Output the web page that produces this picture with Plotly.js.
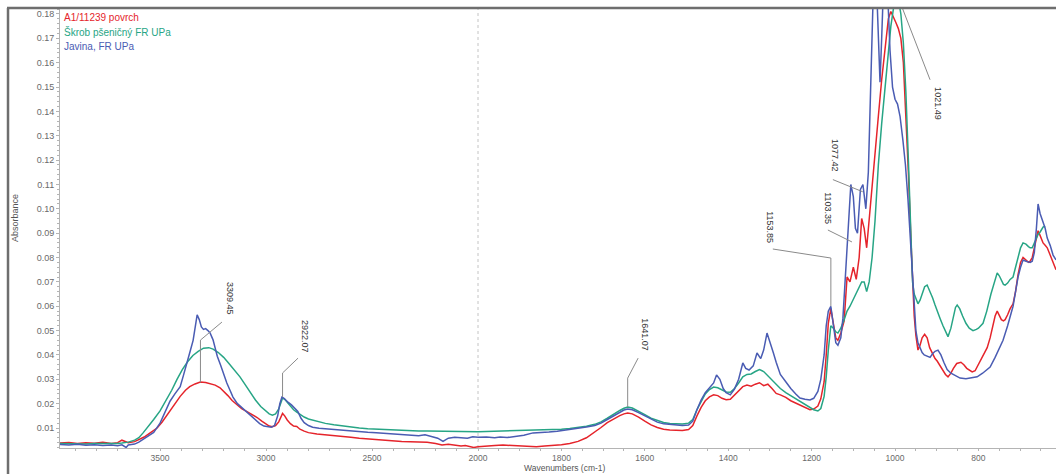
<!DOCTYPE html>
<html>
<head>
<meta charset="utf-8">
<script src="https://cdn.plot.ly/plotly-3.0.1.min.js"></script>
<style>
  html, body { margin: 0; padding: 0; background: #ffffff; }
  #chart { width: 1056px; height: 474px; }
</style>
</head>
<body>
<div id="chart"></div>
<script>
// FTIR spectra: wavenumber (cm-1) and absorbance for each sample
const seriesNames = ['A1/11239 povrch', 'Škrob pšeničný FR UPa', 'Javina, FR UPa'];

const redWn = [3972,3930,3890,3850,3810,3770,3730,3700,3680,3650,3620,3600,3575,3550,3514,3490,3462,3435,3405,3380,3360,3335,3310,3285,3260,3240,3217,3195,3180,3160,3137,3115,3090,3065,3042,3020,3000,2985,2970,2955,2940,2930,2922,2912,2900,2885,2870,2855,2840,2820,2800,2760,2720,2680,2640,2600,2560,2520,2480,2440,2400,2360,2320,2280,2240,2200,2170,2140,2110,2080,2060,2040,2020,2000,
  1980,1960,1940,1920,1900,1880,1860,1840,1820,1800,1780,1760,1740,1720,1705,1690,1675,1660,1650,1641,1630,1615,1600,1585,1570,1555,1540,1525,1510,1495,1485,1475,1465,1455,1445,1435,1425,1415,1405,1395,1385,1375,1365,1355,1345,1335,1325,1315,1305,1295,1285,1275,1262,1250,1238,1228,1216,1204,1195,1185,1178,1170,1165,1160,1154,1148,1142,1137,1130,1122,1115,1108,1100,1093,1086,1080,1074,1068,1062,1055,1048,1040,1032,1024,1016,1010,1004,998,992,986,980,974,968,962,958,954,950,945,940,935,929,923,917,910,904,899,892,885,879,873,866,860,852,842,835,828,821,815,808,800,790,779,772,765,760,755,750,745,740,736,730,724,717,711,705,699,693,686,680,676,671,666,661,657,652,645,640,635,628,621,614];
const redAbs = [0.0038,0.0040,0.0036,0.0039,0.0037,0.0041,0.0036,0.0040,0.0050,0.0040,0.0044,0.0052,0.0063,0.0078,0.0100,0.0125,0.0160,0.0195,0.0230,0.0255,0.0270,0.0281,0.0289,0.0287,0.0282,0.0276,0.0265,0.0248,0.0233,0.0213,0.0195,0.0180,0.0167,0.0155,0.0143,0.0128,0.0116,0.0108,0.0105,0.0110,0.0125,0.0145,0.0160,0.0150,0.0133,0.0118,0.0108,0.0106,0.0095,0.0087,0.0081,0.0075,0.0071,0.0068,0.0065,0.0062,0.0058,0.0055,0.0052,0.0049,0.0047,0.0045,0.0044,0.0043,0.0041,0.0036,0.0030,0.0033,0.0031,0.0026,0.0028,0.0024,0.0020,0.0023,
  0.0024,0.0028,0.0030,0.0028,0.0024,0.0022,0.0023,0.0026,0.0028,0.0031,0.0036,0.0045,0.0060,0.0082,0.0102,0.0122,0.0138,0.0151,0.0158,0.0162,0.0158,0.0145,0.0128,0.0113,0.0102,0.0095,0.0092,0.0090,0.0090,0.0094,0.0110,0.0150,0.0185,0.0212,0.0228,0.0236,0.0233,0.0222,0.0216,0.0218,0.0235,0.0255,0.0270,0.0276,0.0272,0.0280,0.0286,0.0274,0.0280,0.0262,0.0242,0.0236,0.0226,0.0212,0.0202,0.0195,0.0183,0.0175,0.0178,0.0190,0.0220,0.0290,0.0400,0.0530,0.0590,0.0520,0.0470,0.0460,0.0490,0.0540,0.0720,0.0700,0.0760,0.0710,0.0800,0.0960,0.0920,0.0840,0.0950,0.1100,0.1200,0.1380,0.1530,0.1650,0.1780,0.1810,0.1790,0.1765,0.1740,0.1700,0.1600,0.1400,0.1150,0.0880,0.0700,0.0560,0.0480,0.0420,0.0440,0.0470,0.0485,0.0470,0.0430,0.0405,0.0385,0.0375,0.0355,0.0335,0.0320,0.0310,0.0325,0.0345,0.0365,0.0370,0.0360,0.0345,0.0335,0.0330,0.0335,0.0360,0.0390,0.0430,0.0470,0.0520,0.0560,0.0580,0.0560,0.0545,0.0540,0.0545,0.0565,0.0590,0.0610,0.0660,0.0730,0.0780,0.0800,0.0790,0.0780,0.0785,0.0800,0.0840,0.0880,0.0910,0.0890,0.0860,0.0850,0.0840,0.0810,0.0780,0.0750];

const greenWn = [3972,3930,3890,3850,3810,3770,3730,3700,3680,3650,3620,3600,3580,3560,3530,3500,3470,3445,3420,3395,3370,3345,3320,3295,3270,3250,3225,3200,3175,3150,3123,3100,3075,3050,3025,3000,2985,2970,2955,2940,2930,2922,2912,2900,2885,2870,2855,2840,2820,2800,2760,2720,2680,2640,2600,2560,2520,2480,2440,2400,2360,2320,2280,2240,2200,2160,2120,2080,2040,2000,
  1980,1960,1940,1920,1900,1880,1860,1840,1820,1800,1780,1760,1740,1720,1705,1690,1675,1660,1650,1641,1630,1615,1600,1585,1570,1555,1540,1525,1510,1495,1485,1475,1465,1455,1445,1435,1425,1415,1405,1395,1385,1375,1365,1355,1345,1335,1325,1315,1305,1295,1285,1275,1262,1250,1238,1228,1216,1204,1195,1185,1178,1170,1165,1160,1154,1148,1142,1137,1130,1122,1115,1108,1100,1093,1086,1080,1074,1068,1062,1055,1048,1040,1032,1024,1016,1010,1004,998,992,986,980,974,968,962,958,954,950,945,940,935,929,923,917,910,904,899,892,885,879,873,866,860,855,851,845,838,830,822,813,805,800,789,780,770,762,755,750,745,740,736,730,724,717,711,705,699,693,686,680,676,671,666,661,657,652,645,640];
const greenAbs = [0.0036,0.0035,0.0037,0.0034,0.0036,0.0035,0.0037,0.0036,0.0038,0.0042,0.0050,0.0060,0.0080,0.0104,0.0135,0.0170,0.0215,0.0255,0.0300,0.0340,0.0372,0.0398,0.0415,0.0428,0.0430,0.0424,0.0410,0.0390,0.0365,0.0338,0.0310,0.0280,0.0245,0.0215,0.0188,0.0168,0.0158,0.0153,0.0158,0.0178,0.0205,0.0223,0.0218,0.0205,0.0190,0.0175,0.0165,0.0155,0.0145,0.0137,0.0127,0.0119,0.0113,0.0108,0.0104,0.0100,0.0097,0.0095,0.0093,0.0091,0.0090,0.0089,0.0088,0.0088,0.0087,0.0087,0.0086,0.0086,0.0085,0.0085,
  0.0086,0.0087,0.0088,0.0088,0.0089,0.0090,0.0091,0.0092,0.0093,0.0095,0.0098,0.0102,0.0107,0.0115,0.0125,0.0140,0.0157,0.0172,0.0181,0.0186,0.0182,0.0170,0.0155,0.0140,0.0130,0.0123,0.0119,0.0116,0.0116,0.0120,0.0135,0.0175,0.0210,0.0240,0.0258,0.0268,0.0265,0.0255,0.0248,0.0247,0.0262,0.0285,0.0310,0.0320,0.0322,0.0332,0.0340,0.0332,0.0315,0.0295,0.0278,0.0262,0.0245,0.0232,0.0220,0.0208,0.0195,0.0182,0.0175,0.0170,0.0180,0.0230,0.0310,0.0420,0.0520,0.0510,0.0495,0.0490,0.0510,0.0545,0.0580,0.0600,0.0630,0.0650,0.0680,0.0700,0.0700,0.0660,0.0700,0.0800,0.0950,0.1180,0.1350,0.1500,0.1650,0.1750,0.1820,0.1860,0.1860,0.1800,0.1680,0.1480,0.1200,0.0880,0.0700,0.0650,0.0630,0.0610,0.0625,0.0655,0.0680,0.0687,0.0665,0.0635,0.0605,0.0580,0.0550,0.0520,0.0495,0.0475,0.0510,0.0560,0.0595,0.0605,0.0590,0.0560,0.0530,0.0510,0.0500,0.0505,0.0510,0.0530,0.0580,0.0650,0.0700,0.0737,0.0725,0.0705,0.0690,0.0687,0.0695,0.0710,0.0720,0.0760,0.0800,0.0840,0.0860,0.0855,0.0845,0.0840,0.0840,0.0860,0.0880,0.0895,0.0905,0.0925,0.0930];

const blueWn = [3972,3930,3890,3850,3810,3770,3730,3700,3680,3660,3650,3620,3600,3575,3553,3530,3500,3475,3453,3430,3405,3390,3372,3358,3344,3335,3325,3315,3305,3295,3285,3274,3264,3250,3240,3230,3215,3203,3185,3170,3156,3135,3110,3090,3070,3050,3030,3010,2990,2975,2960,2945,2935,2925,2915,2905,2895,2880,2865,2850,2835,2820,2800,2780,2750,2700,2650,2600,2560,2520,2480,2440,2400,2360,2320,2280,2250,2220,2190,2165,2140,2110,2080,2050,2025,2000,
  1980,1960,1947,1930,1910,1890,1868,1850,1830,1810,1787,1765,1740,1720,1705,1690,1675,1660,1650,1641,1630,1615,1600,1585,1570,1555,1540,1525,1510,1495,1485,1475,1465,1455,1445,1435,1428,1420,1412,1405,1395,1385,1375,1365,1358,1350,1340,1331,1322,1315,1307,1300,1292,1285,1275,1262,1250,1238,1228,1216,1204,1195,1185,1178,1170,1165,1160,1154,1148,1142,1137,1130,1125,1118,1112,1106,1100,1095,1090,1083,1077,1070,1064,1058,1052,1045,1040,1036,1032,1028,1018,1012,1006,1000,994,988,981,975,969,964,959,954,950,945,940,935,930,923,916,910,904,897,890,883,875,866,856,844,830,815,803,790,780,772,760,750,741,730,723,717,711,705,699,693,686,680,676,671,666,661,657,652,645,640,635,628,621,614];
const blueAbs = [0.0032,0.0030,0.0033,0.0029,0.0031,0.0028,0.0030,0.0027,0.0031,0.0020,0.0030,0.0034,0.0042,0.0055,0.0068,0.0082,0.0120,0.0165,0.0210,0.0240,0.0270,0.0315,0.0367,0.0415,0.0460,0.0510,0.0565,0.0545,0.0515,0.0505,0.0508,0.0500,0.0490,0.0462,0.0430,0.0395,0.0360,0.0326,0.0285,0.0255,0.0227,0.0200,0.0180,0.0163,0.0148,0.0132,0.0118,0.0108,0.0104,0.0103,0.0110,0.0150,0.0200,0.0227,0.0222,0.0212,0.0205,0.0195,0.0183,0.0168,0.0140,0.0122,0.0110,0.0103,0.0099,0.0095,0.0092,0.0088,0.0086,0.0083,0.0081,0.0079,0.0076,0.0075,0.0072,0.0068,0.0072,0.0066,0.0058,0.0045,0.0058,0.0062,0.0060,0.0058,0.0064,0.0062,
  0.0063,0.0060,0.0063,0.0061,0.0066,0.0070,0.0080,0.0081,0.0084,0.0087,0.0092,0.0096,0.0104,0.0110,0.0120,0.0135,0.0150,0.0165,0.0174,0.0178,0.0175,0.0163,0.0150,0.0135,0.0124,0.0117,0.0114,0.0112,0.0110,0.0112,0.0128,0.0175,0.0215,0.0245,0.0265,0.0285,0.0318,0.0300,0.0262,0.0245,0.0236,0.0260,0.0300,0.0367,0.0345,0.0338,0.0355,0.0408,0.0385,0.0420,0.0490,0.0455,0.0410,0.0370,0.0320,0.0290,0.0262,0.0240,0.0223,0.0218,0.0215,0.0222,0.0250,0.0300,0.0400,0.0520,0.0580,0.0600,0.0520,0.0450,0.0440,0.0470,0.0550,0.0750,0.0950,0.1100,0.1050,0.0920,0.0900,0.1080,0.1100,0.1000,0.1150,0.1500,0.1900,0.1950,0.1700,0.1520,0.1700,0.1900,0.1900,0.1650,0.1500,0.1450,0.1430,0.1380,0.1280,0.1180,0.1040,0.0900,0.0760,0.0600,0.0500,0.0450,0.0430,0.0410,0.0400,0.0395,0.0390,0.0405,0.0415,0.0420,0.0400,0.0370,0.0340,0.0325,0.0315,0.0305,0.0302,0.0305,0.0310,0.0325,0.0340,0.0350,0.0390,0.0430,0.0460,0.0520,0.0560,0.0600,0.0660,0.0720,0.0760,0.0790,0.0785,0.0780,0.0780,0.0785,0.0820,0.0920,0.1020,0.0980,0.0940,0.0920,0.0880,0.0850,0.0810,0.0790];

// Labelled peak positions (cm-1)
const peakWn = [3309.45, 2922.07, 1641.07, 1153.85, 1103.35, 1077.42, 1021.49];

// ---- drawing ----
const BREAK = 2000;            // axis scale changes at 2000 cm-1
const LEFT_RANGE = [3972, BREAK];
const RIGHT_RANGE = [BREAK, 614];
const Y_RANGE = [0.00179, 0.18246];
const SPLIT = 418 / 996;       // share of plot width used by the 4000-2000 part
const PLOT_H = 440;            // plot area height in px

const colors = ['#e5242b', '#27a585', '#4a5cb3'];

function half(wn, ab, high) {
  const xs = [], ys = [];
  wn.forEach((w, i) => {
    if (high ? w >= BREAK : w <= BREAK) { xs.push(w); ys.push(ab[i]); }
  });
  return { xs, ys };
}

const data = [];
[[redWn, redAbs], [greenWn, greenAbs], [blueWn, blueAbs]].forEach(([wn, ab], k) => {
  const hi = half(wn, ab, true);
  const lo = half(wn, ab, false);
  const line = { color: colors[k], width: 1.5 };
  data.push({ x: hi.xs, y: hi.ys, xaxis: 'x', yaxis: 'y', type: 'scatter', mode: 'lines',
              line, name: seriesNames[k], showlegend: false, hoverinfo: 'skip', cliponaxis: true });
  data.push({ x: lo.xs, y: lo.ys, xaxis: 'x2', yaxis: 'y', type: 'scatter', mode: 'lines',
              line, name: seriesNames[k], showlegend: false, hoverinfo: 'skip', cliponaxis: true });
});

const tickFont = { family: 'Liberation Sans, Arial, sans-serif', size: 9, color: '#6a6a6a' };
const xTickFont = { family: 'Liberation Sans, Arial, sans-serif', size: 8.5, color: '#6a6a6a' };
const axisLine = '#b4b4b4';

const yTicks = [];
for (let v = 1; v <= 18; v++) yTicks.push(v / 100);

// label placement for each peak: [axis, text x, text y, leader path points]
const peakLayout = [
  ['x',  3170, 0.0634, [[peakWn[0], 0.0287], [peakWn[0], 0.0461], [3208, 0.0535]]],
  ['x',  2816, 0.0478, [[peakWn[1], 0.0227], [peakWn[1], 0.0326], [2849, 0.0387]]],
  ['x2', 1600, 0.0482, [[peakWn[2], 0.0186], [peakWn[2], 0.0305], [1616, 0.0387]]],
  ['x2', 1300, 0.0925, [[peakWn[3], 0.0600], [peakWn[3], 0.0798], [1293, 0.0835]]],
  ['x2', 1161, 0.1003, [[1161, 0.0913], [peakWn[4], 0.0864]]],
  ['x2', 1144, 0.1217, [[1149, 0.1120], [peakWn[5], 0.1070]]],
  ['x2', 897,  0.1430, [[916, 0.1530], [peakWn[6], 0.1997]]]
];

const annotations = [];
const shapes = [];

peakLayout.forEach(([ax, tx, ty, pts], i) => {
  annotations.push({
    xref: ax, yref: 'y', x: tx, y: ty, text: peakWn[i].toFixed(2),
    textangle: 90, showarrow: false, xanchor: 'center', yanchor: 'middle',
    font: { family: 'Liberation Sans, Arial, sans-serif', size: 9, color: '#333' }
  });
  const path = pts.map((p, j) => (j ? 'L' : 'M') + p[0] + ',' + p[1]).join(' ');
  shapes.push({ type: 'path', xref: ax, yref: 'y', path,
                line: { color: '#8a8a8a', width: 1 } });
});

// pixel offset from the plot's top edge -> paper y
const pyTop = px => 1 - px / PLOT_H;

// series names written in the top-left corner
const namePx = [9, 24, 38];
seriesNames.forEach((n, k) => {
  annotations.push({
    xref: 'paper', yref: 'paper', x: 0.002, y: pyTop(namePx[k]), xanchor: 'left', yanchor: 'middle',
    text: n, showarrow: false,
    font: { family: 'Liberation Sans, Arial, sans-serif', size: 10, color: colors[k] }
  });
});

// axis titles
annotations.push({
  xref: 'paper', yref: 'paper', x: -0.0452, y: pyTop(210), text: 'Absorbance', textangle: -90,
  showarrow: false, xanchor: 'center', yanchor: 'middle',
  font: { family: 'Liberation Sans, Arial, sans-serif', size: 9, color: '#555' }
});
annotations.push({
  xref: 'paper', yref: 'paper', x: 0.507, y: pyTop(466), text: 'Wavenumbers (cm-1)',
  showarrow: false, xanchor: 'center', yanchor: 'bottom', borderpad: 0,
  font: { family: 'Liberation Sans, Arial, sans-serif', size: 8.5, color: '#555' }
});

// dotted marker of the scale change
shapes.push({ type: 'line', xref: 'paper', yref: 'paper', x0: SPLIT, x1: SPLIT, y0: 0, y1: 1,
              line: { color: '#c4c4c4', width: 1, dash: 'dot' }, layer: 'below' });
// outer frame: top and left edge
shapes.push({ type: 'line', xref: 'paper', yref: 'paper', x0: -0.0532, x1: 1, y0: 1.0, y1: 1.0,
              line: { color: '#6e6e6e', width: 2.5 } });
shapes.push({ type: 'line', xref: 'paper', yref: 'paper', x0: -0.0522, x1: -0.0522, y0: 1.0, y1: pyTop(470),
              line: { color: '#6e6e6e', width: 2.5 } });

const layout = {
  width: 1056, height: 474,
  margin: { l: 60, r: 0, t: 8, b: 26, pad: 0 },
  paper_bgcolor: '#ffffff', plot_bgcolor: '#ffffff',
  showlegend: false,
  xaxis: {
    domain: [0, SPLIT], range: LEFT_RANGE, anchor: 'y',
    tickmode: 'array', tickvals: [3500, 3000, 2500, 2000],
    ticks: 'outside', ticklen: 2, tickcolor: axisLine,
    minor: { tickmode: 'linear', tick0: 0, dtick: 100, ticks: 'outside', ticklen: 2, tickcolor: axisLine },
    showline: true, linecolor: axisLine, linewidth: 1,
    showgrid: false, zeroline: false, tickfont: xTickFont
  },
  xaxis2: {
    domain: [SPLIT, 1], range: RIGHT_RANGE, anchor: 'y',
    tickmode: 'array', tickvals: [1800, 1600, 1400, 1200, 1000, 800],
    ticks: 'outside', ticklen: 2, tickcolor: axisLine,
    minor: { tickmode: 'linear', tick0: 0, dtick: 50, ticks: 'outside', ticklen: 2, tickcolor: axisLine },
    showline: true, linecolor: axisLine, linewidth: 1,
    showgrid: false, zeroline: false, tickfont: xTickFont
  },
  yaxis: {
    range: Y_RANGE, anchor: 'x',
    tickmode: 'array', tickvals: yTicks, tickformat: '.2f',
    ticks: 'outside', ticklen: 3, tickcolor: axisLine,
    minor: { tickmode: 'linear', tick0: 0, dtick: 0.002, ticks: 'outside', ticklen: 2, tickcolor: axisLine },
    showline: true, linecolor: axisLine, linewidth: 1,
    showgrid: false, zeroline: false, tickfont: tickFont
  },
  annotations, shapes
};

Plotly.newPlot('chart', data, layout, { staticPlot: true, displayModeBar: false });
</script>
</body>
</html>
